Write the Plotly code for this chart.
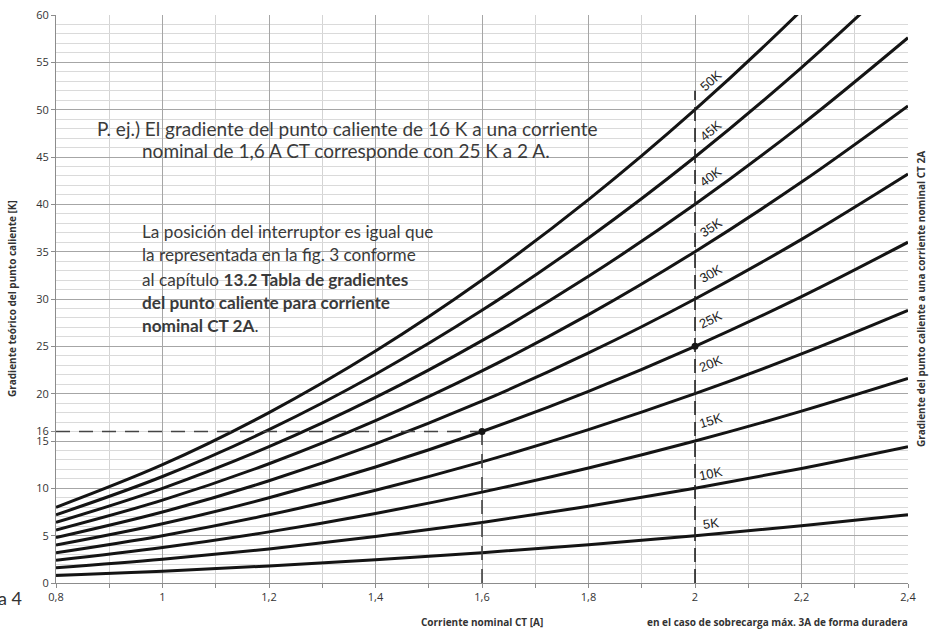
import plotly.graph_objects as go

# ---------------- data ----------------
current_a = [0.8, 1.0, 1.2, 1.4, 1.6, 1.8, 2.0, 2.2, 2.4]
curve_names = ["5K", "10K", "15K", "20K", "25K", "30K", "35K", "40K", "45K", "50K"]
k5 = [0.8, 1.25, 1.8, 2.45, 3.2, 4.05, 5.0, 6.05, 7.2]
k10 = [1.6, 2.5, 3.6, 4.9, 6.4, 8.1, 10.0, 12.1, 14.4]
k15 = [2.4, 3.75, 5.4, 7.35, 9.6, 12.15, 15.0, 18.15, 21.6]
k20 = [3.2, 5.0, 7.2, 9.8, 12.8, 16.2, 20.0, 24.2, 28.8]
k25 = [4.0, 6.25, 9.0, 12.25, 16.0, 20.25, 25.0, 30.25, 36.0]
k30 = [4.8, 7.5, 10.8, 14.7, 19.2, 24.3, 30.0, 36.3, 43.2]
k35 = [5.6, 8.75, 12.6, 17.15, 22.4, 28.35, 35.0, 42.35, 50.4]
k40 = [6.4, 10.0, 14.4, 19.6, 25.6, 32.4, 40.0, 48.4, 57.6]
k45 = [7.2, 11.25, 16.2, 22.05, 28.8, 36.45, 45.0, 54.45, 64.8]
k50 = [8.0, 12.5, 18.0, 24.5, 32.0, 40.5, 50.0, 60.5, 72.0]
curves = [k5, k10, k15, k20, k25, k30, k35, k40, k45, k50]

example_x = 1.6      # A
example_y = 16       # K
ref_x = 2.0          # A
ref_y = 25           # K
ref_guide_top = 52   # top of dashed guide at 2 A

x_tick_vals = [0.8, 1.0, 1.2, 1.4, 1.6, 1.8, 2.0, 2.2, 2.4]
x_tick_text = ["0,8", "1", "1,2", "1,4", "1,6", "1,8", "2", "2,2", "2,4"]
y_tick_vals = [0, 5, 10, 15, 20, 25, 30, 35, 40, 45, 50, 55, 60]

# ---------------- styling ----------------
label_angles = [-7, -12, -17, -22, -26, -30, -33, -37, -40, -42]
label_offsets = [1.3, 1.6, 2.2, 3.2, 2.8, 2.7, 2.6, 2.9, 2.8, 3.1]
label_x = 2.03
TXT = "#3a3a3a"
PFONT = "Lato"

fig = go.Figure()

for name, ys in zip(curve_names, curves):
    fig.add_trace(go.Scatter(x=current_a, y=ys, mode="lines", name=name,
                             line=dict(color="#141414", width=3, shape="spline"),
                             showlegend=False, hoverinfo="skip"))

dash_style = dict(color="#444444", width=1.6, dash="14px,9px")
fig.add_trace(go.Scatter(x=[current_a[0], example_x], y=[example_y, example_y], mode="lines",
                         line=dash_style, showlegend=False, hoverinfo="skip"))
fig.add_trace(go.Scatter(x=[example_x, example_x], y=[0, example_y], mode="lines",
                         line=dash_style, showlegend=False, hoverinfo="skip"))
fig.add_trace(go.Scatter(x=[ref_x, ref_x], y=[0, ref_guide_top], mode="lines",
                         line=dict(color="#222222", width=1.6, dash="14px,7px"),
                         showlegend=False, hoverinfo="skip"))
fig.add_trace(go.Scatter(x=[example_x, ref_x], y=[example_y, ref_y], mode="markers",
                         marker=dict(color="#141414", size=7), showlegend=False, hoverinfo="skip"))

# dummy trace for second y-axis (16 tick)
fig.add_trace(go.Scatter(x=[example_x], y=[example_y], yaxis="y2", mode="markers",
                         marker=dict(opacity=0), showlegend=False, hoverinfo="skip"))

annotations = []
ref_idx = current_a.index(ref_x)
for name, ys, ang, off in zip(curve_names, curves, label_angles, label_offsets):
    annotations.append(dict(x=label_x, y=ys[ref_idx] + off, xref="x", yref="y", text=name,
                            showarrow=False, textangle=ang, xanchor="center", yanchor="middle",
                            font=dict(family="Liberation Sans", size=13, color="#222222")))

para1 = [("P. ej.) El gradiente del punto caliente de 16 K a una corriente", 0.873, 48.0),
         ("nominal de 1,6 A CT corresponde con 25 K a 2 A.", 0.958, 45.7)]
para2 = [("La posición del interruptor es igual que", 37.1),
         ("la representada en la fig. 3 conforme", 34.65),
         ("al capítulo <b>13.2 Tabla de gradientes</b>", 32.1),
         ("<b>del punto caliente para corriente</b>", 29.6),
         ("<b>nominal CT 2A</b>.", 27.15)]
for t, x, y in para1:
    annotations.append(dict(x=x, y=y, xref="x", yref="y", text=t, showarrow=False,
                            xanchor="left", yanchor="middle",
                            font=dict(family=PFONT, size=19, color=TXT)))
for t, y in para2:
    annotations.append(dict(x=0.958, y=y, xref="x", yref="y", text=t, showarrow=False,
                            xanchor="left", yanchor="middle",
                            font=dict(family=PFONT, size=17.2, color=TXT)))

TFONT = dict(family="Open Sans", size=10, color="#333333")
annotations += [
    dict(x=-0.0516, y=0.5, xref="paper", yref="paper", text="<b>Gradiente teórico del punto caliente [K]</b>",
         showarrow=False, textangle=-90, xanchor="center", yanchor="middle", font=TFONT),
    dict(x=1.0153, y=0.5, xref="paper", yref="paper",
         text="<b>Gradiente del punto caliente a una corriente nominal CT 2A</b>",
         showarrow=False, textangle=-90, xanchor="center", yanchor="middle", font=TFONT),
    dict(x=example_x, y=-0.0687, xref="x", yref="paper", text="<b>Corriente nominal CT [A]</b>",
         showarrow=False, xanchor="center", yanchor="middle", font=TFONT),
    dict(x=0.8474, y=-0.0687, xref="paper", yref="paper",
         text="<b>en el caso de sobrecarga máx. 3A de forma duradera</b>",
         showarrow=False, xanchor="center", yanchor="middle", font=TFONT),
    dict(x=-0.0376, y=-0.0264, xref="paper", yref="paper", text="a 4",
         showarrow=False, xanchor="right", yanchor="middle",
         font=dict(family=PFONT, size=18, color="#333333")),
]

fig.update_layout(
    width=929, height=630, autosize=False,
    margin=dict(l=56, r=21, t=15, b=47, pad=0, autoexpand=False),
    paper_bgcolor="white", plot_bgcolor="white",
    annotations=annotations,
    xaxis=dict(range=[0.8, 2.4], tickmode="array", tickvals=x_tick_vals, ticktext=x_tick_text,
               automargin=False,
               showgrid=True, gridcolor="#a6a6a6", gridwidth=1, zeroline=False,
               showline=True, linecolor="#8c8c8c", linewidth=1,
               ticks="outside", ticklen=4, tickcolor="#8c8c8c",
               tickfont=dict(family="Open Sans", size=11, color="#333333"),
               minor=dict(tick0=0.8, dtick=0.1, showgrid=True, gridcolor="#d4d4d4",
                          ticks="outside", ticklen=4, tickcolor="#8c8c8c")),
    yaxis=dict(range=[0, 60], tickmode="array", tickvals=y_tick_vals,
               automargin=False,
               showgrid=True, gridcolor="#a6a6a6", gridwidth=1, zeroline=False,
               showline=True, linecolor="#8c8c8c", linewidth=1,
               ticks="outside", ticklen=4, tickcolor="#8c8c8c",
               tickfont=dict(family="Open Sans", size=11, color="#333333"),
               minor=dict(tick0=0, dtick=1, showgrid=True, gridcolor="#dadada")),
    yaxis2=dict(range=[0, 60], overlaying="y", side="left", anchor="x",
                automargin=False,
                tickmode="array", tickvals=[example_y], ticktext=[str(example_y)],
                showgrid=False, zeroline=False, showline=False,
                ticks="outside", ticklen=4, tickcolor="#8c8c8c",
                tickfont=dict(family="Open Sans", size=11, color="#333333")),
)

fig.write_html("out.html", config={"displayModeBar": False},
               post_script="document.body.style.margin='0px';document.body.style.overflow='hidden';")
